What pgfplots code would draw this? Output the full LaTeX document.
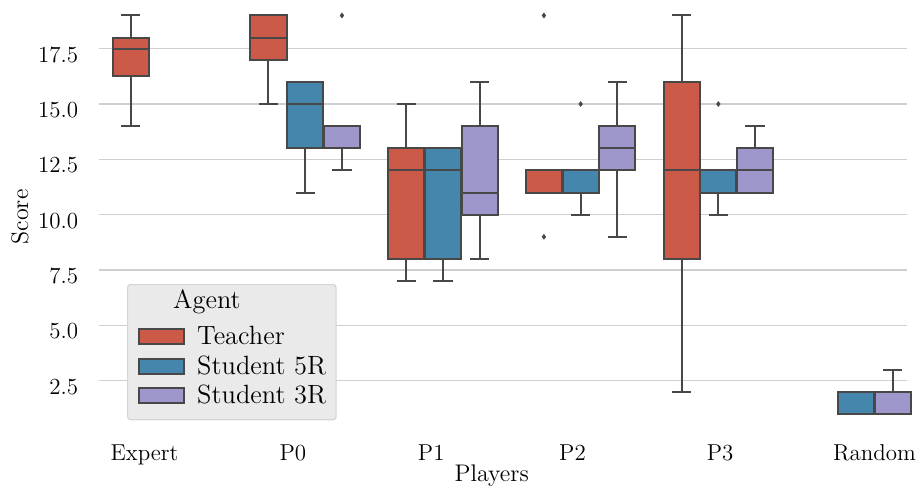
\documentclass[border=0pt]{standalone}
\usepackage{pgfplots}
\pgfplotsset{compat=1.18}
\usepgfplotslibrary{statistics}
\definecolor{teacher}{HTML}{CC5A49}
\definecolor{sfive}{HTML}{4586AC}
\definecolor{sthree}{HTML}{9E97CC}
\definecolor{edgegray}{HTML}{484848}
\definecolor{gridgray}{HTML}{CFCFCF}
\definecolor{legfill}{HTML}{EAEAEA}
\definecolor{legedge}{HTML}{D4D4D4}
\pgfplotsset{
  bx/.style={boxplot prepared={#1}, draw=edgegray, line width=1pt, solid, forget plot},
}
\begin{document}
\begin{tikzpicture}
\useasboundingbox (-49.33pt,-27.1pt) rectangle (411.17pt,216.9pt);
\begin{axis}[
  scale only axis, width=404.18pt, height=216.9pt,
  xmin=-0.5, xmax=5.37, ymin=0.1, ymax=19.7,
  clip=false,
  axis line style={draw=none},
  major tick length=0pt,
  tick style={draw=none},
  xtick={-0.167,0.910,1.915,2.941,4.013,5.134},
  xticklabels={Expert,P0,P1,P2,P3,Random},
  ytick={2.5,5,7.5,10,12.5,15,17.5},
  yticklabels={2.5,5.0,7.5,10.0,12.5,15.0,17.5},
  ymajorgrids, grid style={gridgray, line width=0.7pt},
  tick label style={font=\fontsize{11.5}{13.8}\selectfont},
  xticklabel style={anchor=base, inner sep=0pt, yshift=-13.1pt},
  yticklabel style={anchor=east, inner sep=0pt, xshift=-10pt, yshift=-3pt},
  xlabel={Players}, ylabel={Score},
  label style={font=\fontsize{12}{14.4}\selectfont},
  xlabel style={at={([yshift=-23.85pt]axis description cs:0.4862,0)}, anchor=base, inner sep=0pt},
  ylabel style={at={([xshift=-35.3pt]axis description cs:0,0.5)}, anchor=base, inner sep=0pt},
  boxplot/draw direction=y,
  boxplot/box extend=0.262, boxplot/whisker extend=0.14,
  legend cell align=left,
  legend style={at={(axis description cs:0.0351,0.3453)}, anchor=north west,
    draw=legedge, fill=legfill, line width=0.6pt, rounded corners=1.5pt,
    font=\fontsize{13.2}{15.84}\selectfont, inner xsep=5pt, inner ysep=5.5pt,
    row sep=2.85pt, column sep=0pt,
    nodes={inner sep=0pt, text height=9.5pt, text depth=2.5pt}},
]
% Expert
\addplot[bx={draw position=-0.2667, lower whisker=14, lower quartile=16.25, median=17.5, upper quartile=18, upper whisker=19}, fill=teacher] coordinates {};
% P0
\addplot[bx={draw position=0.7333, lower whisker=15, lower quartile=17, median=18, upper quartile=19, upper whisker=19}, fill=teacher] coordinates {};
\addplot[bx={draw position=1, lower whisker=11, lower quartile=13, median=15, upper quartile=16, upper whisker=16}, fill=sfive] coordinates {};
\addplot[bx={draw position=1.2667, lower whisker=12, lower quartile=13, median=14, upper quartile=14, upper whisker=14}, fill=sthree] coordinates {};
% P1
\addplot[bx={draw position=1.7333, lower whisker=7, lower quartile=8, median=12, upper quartile=13, upper whisker=15}, fill=teacher] coordinates {};
\addplot[bx={draw position=2, lower whisker=7, lower quartile=8, median=12, upper quartile=13, upper whisker=13}, fill=sfive] coordinates {};
\addplot[bx={draw position=2.2667, lower whisker=8, lower quartile=10, median=11, upper quartile=14, upper whisker=16}, fill=sthree] coordinates {};
% P2
\addplot[bx={draw position=2.7333, lower whisker=11, lower quartile=11, median=12, upper quartile=12, upper whisker=12}, fill=teacher] coordinates {};
\addplot[bx={draw position=3, lower whisker=10, lower quartile=11, median=12, upper quartile=12, upper whisker=12}, fill=sfive] coordinates {};
\addplot[bx={draw position=3.2667, lower whisker=9, lower quartile=12, median=13, upper quartile=14, upper whisker=16}, fill=sthree] coordinates {};
% P3
\addplot[bx={draw position=3.7333, lower whisker=2, lower quartile=8, median=12, upper quartile=16, upper whisker=19}, fill=teacher] coordinates {};
\addplot[bx={draw position=4, lower whisker=10, lower quartile=11, median=12, upper quartile=12, upper whisker=12}, fill=sfive] coordinates {};
\addplot[bx={draw position=4.2667, lower whisker=11, lower quartile=11, median=12, upper quartile=13, upper whisker=14}, fill=sthree] coordinates {};
% Random
\addplot[bx={draw position=5, lower whisker=1, lower quartile=1, median=2, upper quartile=2, upper whisker=2}, fill=sfive] coordinates {};
\addplot[bx={draw position=5.2667, lower whisker=1, lower quartile=1, median=2, upper quartile=2, upper whisker=3}, fill=sthree] coordinates {};
% outliers
\addplot[only marks, mark=diamond*, mark size=1.2pt, draw=edgegray, fill=edgegray, line width=0.3pt, forget plot]
  coordinates {(1.2667,19) (2.7333,19) (2.7333,9) (3,15) (4,15)};
% legend
\addlegendimage{empty legend}
\addlegendentry{\hspace*{-12pt}\raisebox{3pt}{Agent}}
\addlegendimage{legend image code/.code={\draw[sharp corners, fill=teacher, draw=edgegray, line width=1pt] (0pt,-3.25pt) rectangle (22.5pt,4.25pt); \path (29pt,0pt);}}
\addlegendentry{Teacher}
\addlegendimage{legend image code/.code={\draw[sharp corners, fill=sfive, draw=edgegray, line width=1pt] (0pt,-3.25pt) rectangle (22.5pt,4.25pt); \path (29pt,0pt);}}
\addlegendentry{Student 5R}
\addlegendimage{legend image code/.code={\draw[sharp corners, fill=sthree, draw=edgegray, line width=1pt] (0pt,-3.25pt) rectangle (22.5pt,4.25pt); \path (29pt,0pt);}}
\addlegendentry{Student 3R}
\end{axis}
\end{tikzpicture}
\end{document}
